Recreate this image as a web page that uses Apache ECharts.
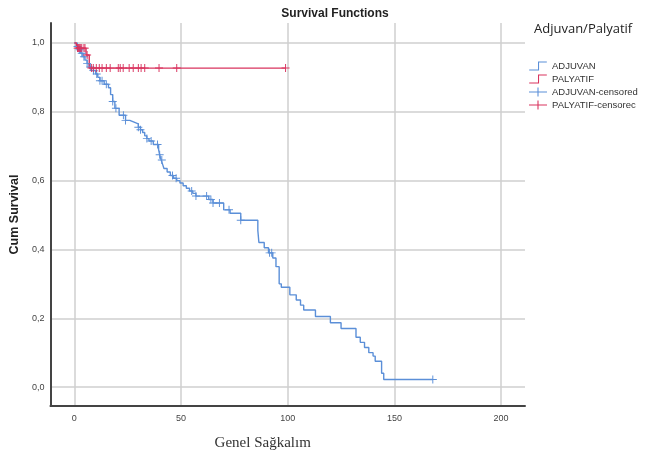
<!DOCTYPE html>
<html><head><meta charset="utf-8">
<script src="https://cdn.jsdelivr.net/npm/echarts@6/dist/echarts.min.js"></script>
<style>html,body{margin:0;padding:0;background:#fff}#c{width:655px;height:457px}</style>
</head><body><div id="c"></div>
<script>
// ---- data ----
const xTicks = [0, 50, 100, 150, 200];
const yTicks = [0, 0.2, 0.4, 0.6, 0.8, 1.0];

const adjTimes = [0,1,2,3,4,5,6,7,8,10,11,12,14,16,17,18,19,21,24,26,28,30,31,32,33,34,35,37,39.5,40,40.7,41.5,42,43.5,45,46.5,48,49.5,51,52.5,54,55.5,57,63,65,70,73,78,86,86.5,89,91,93,94.5,96,97,101,104,106,107.5,113,120,125,132,134,136,138,140,141,144,145,168];
const adjSurv  = [1.0,0.99,0.98,0.97,0.96,0.95,0.94,0.93,0.92,0.91,0.90,0.89,0.88,0.87,0.85,0.83,0.81,0.79,0.775,0.77,0.765,0.755,0.748,0.74,0.73,0.722,0.715,0.705,0.69,0.675,0.66,0.645,0.635,0.625,0.615,0.607,0.60,0.593,0.585,0.578,0.57,0.563,0.555,0.545,0.535,0.515,0.505,0.485,0.455,0.42,0.405,0.39,0.375,0.35,0.30,0.29,0.268,0.253,0.238,0.224,0.205,0.187,0.17,0.145,0.13,0.115,0.10,0.09,0.075,0.04,0.022,0.022];
const adjCensor = [1.5,2.5,3.5,4.5,6,7.5,9,10.5,12,13,15,18,19.5,23,24,30,31,34,36,39,40,41,46,47.7,55,57,62,64,65,68,72.5,78,91.5,92.5,168];

const palTimes = [0,1,5.5,7,99];
const palSurv  = [1.0,0.985,0.965,0.927,0.927];
const palCensor = [1.5,2,2.5,3,3.5,4.5,5,6,8,8.9,10.3,11.7,13,15,16.8,20.6,21.5,22.9,25.7,27.6,30,31.3,33,39.7,48,99];

// ---- helpers ----
function survAt(times, surv, t){ let s = surv[0]; for(let i=0;i<times.length;i++){ if(times[i]<=t) s=surv[i]; } return s; }
const pairs = (a,b)=>a.map((t,i)=>[t,b[i]]);
const BLUE = '#5b8fd8', RED = '#d9345f';
const crossPath = 'path://M0,4.4 L10,4.4 L10,5.6 L0,5.6 Z M4.4,0 L5.6,0 L5.6,10 L4.4,10 Z';
const stepIcon = 'path://M0,9 L10,9 L10,0 L20,0 L20,1.2 L11.2,1.2 L11.2,10.2 L0,10.2 Z';
const crossIcon = 'path://M0,4.4 L20,4.4 L20,5.6 L0,5.6 Z M9.4,0 L10.6,0 L10.6,10 L9.4,10 Z';

const chart = echarts.init(document.getElementById('c'), null, {renderer:'canvas'});
chart.setOption({
  animation:false,
  backgroundColor:'#fff',
  title:[
    {text:'Survival Functions', left:330, top:3, textAlign:'center',
     textStyle:{fontFamily:'Liberation Sans, Arial', fontSize:12, fontWeight:'bold', color:'#222'}},
    {text:'Adjuvan/Palyatif', left:529, top:18,
     textStyle:{fontFamily:'Open Sans, Noto Sans', fontSize:13, fontWeight:'normal', color:'#222'}}
  ],
  legend:{
    orient:'vertical', left:524, top:56, itemWidth:24, itemHeight:9, itemGap:3,
    textStyle:{fontFamily:'Liberation Sans, Arial', fontSize:9.5, color:'#333', padding:[0,0,0,-3]},
    data:[
      {name:'ADJUVAN', icon:stepIcon, itemStyle:{color:BLUE, opacity:1}},
      {name:'PALYATIF', icon:stepIcon, itemStyle:{color:RED, opacity:1}},
      {name:'ADJUVAN-censored', icon:crossIcon, itemStyle:{color:BLUE, opacity:1}},
      {name:'PALYATIF-censorec', icon:crossIcon, itemStyle:{color:RED, opacity:1}}
    ]
  },
  grid:{left:49, right:130, top:23, bottom:51, containLabel:false},
  xAxis:{
    type:'value', min:-11.2, max:211.2,
    name:'Genel Sağkalım', nameLocation:'middle', nameGap:30,
    nameTextStyle:{fontFamily:'Liberation Serif, Times New Roman', fontSize:15, color:'#333', padding:[0,0,0,-50]},
    axisLine:{show:true, onZero:false, lineStyle:{color:'#444', width:2}},
    axisTick:{show:false, customValues:xTicks},
    axisLabel:{customValues:xTicks, fontFamily:'Liberation Sans, Arial', fontSize:9, color:'#444', margin:8},
    splitLine:{show:true, lineStyle:{color:'#cfcfcf', width:1.5}}
  },
  yAxis:{
    type:'value', min:-0.055, max:1.058,
    name:'Cum Survival', nameLocation:'middle', nameGap:28, nameRotate:90,
    nameTextStyle:{fontFamily:'Liberation Sans, Arial', fontSize:12.5, fontWeight:'bold', color:'#222'},
    axisLine:{show:true, onZero:false, lineStyle:{color:'#444', width:2}},
    axisTick:{show:false, customValues:yTicks},
    axisLabel:{customValues:yTicks, fontFamily:'Liberation Sans, Arial', fontSize:9, color:'#444', margin:6,
      formatter:v=>v.toFixed(1).replace('.',',')},
    splitLine:{show:true, lineStyle:{color:'#cfcfcf', width:1.5}}
  },
  series:[
    {name:'ADJUVAN', type:'line', step:'end', data:pairs(adjTimes, adjSurv), showSymbol:false,
     lineStyle:{color:BLUE, width:1.4}, itemStyle:{color:BLUE}, z:3},
    {name:'PALYATIF', type:'line', step:'end', data:pairs(palTimes, palSurv), showSymbol:false,
     lineStyle:{color:RED, width:1.4}, itemStyle:{color:RED}, z:4},
    {name:'ADJUVAN-censored', type:'scatter', symbol:crossPath, symbolSize:8,
     data:adjCensor.map(t=>[t, survAt(adjTimes, adjSurv, t)]), itemStyle:{color:BLUE, opacity:1}, z:5},
    {name:'PALYATIF-censorec', type:'scatter', symbol:crossPath, symbolSize:8,
     data:palCensor.map(t=>[t, survAt(palTimes, palSurv, t)]), itemStyle:{color:RED, opacity:1}, z:6}
  ]
});
</script></body></html>
